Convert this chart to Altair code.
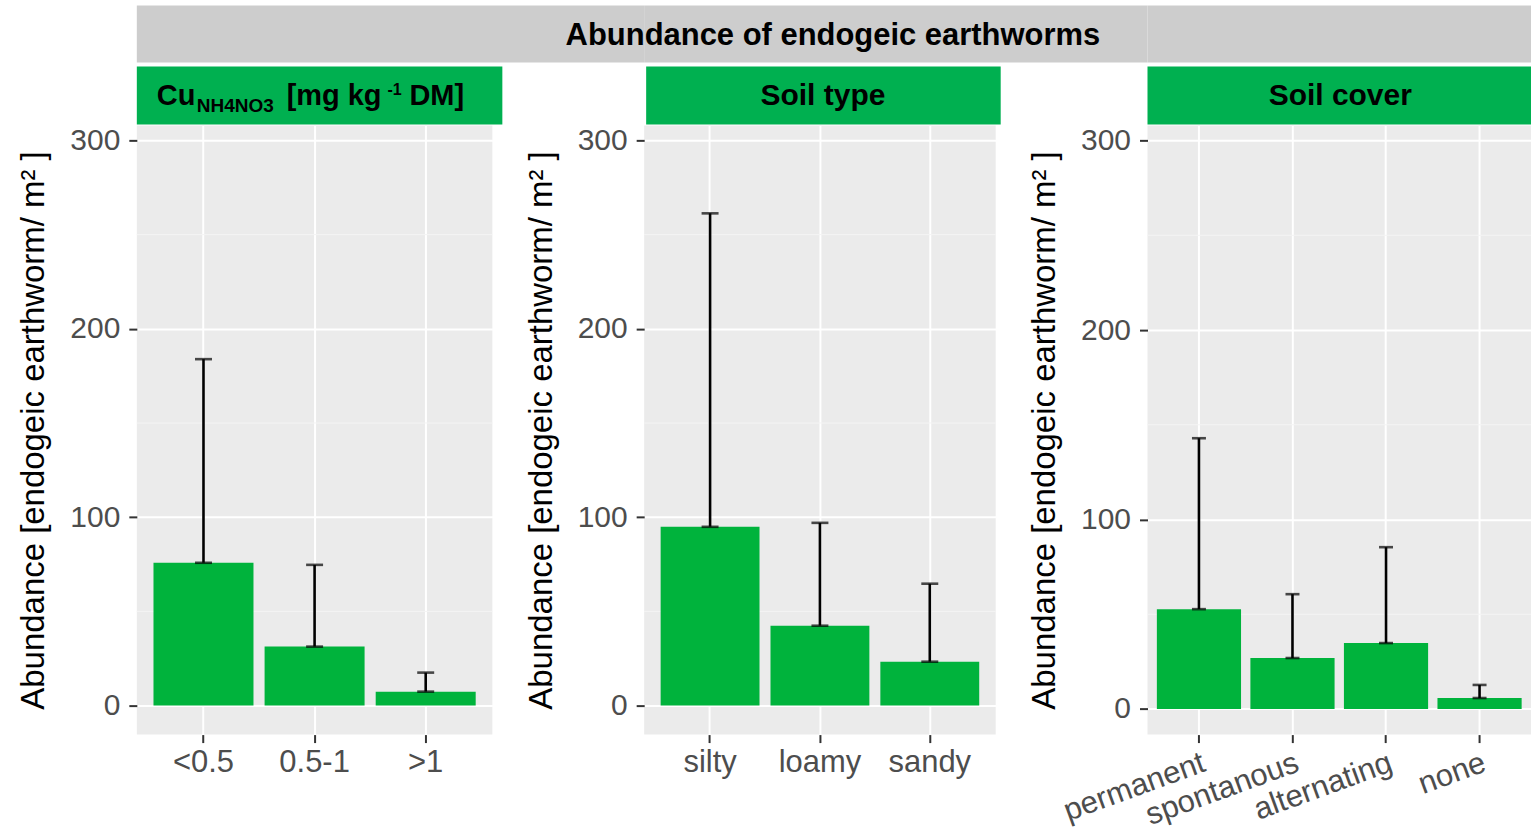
import altair as alt
import pandas as pd

# ---------------- data ----------------
cu_cats = ["<0.5", "0.5-1", ">1"]
cu_mean = [75.8, 31.3, 7.4]
cu_upper = [183.9, 74.7, 17.5]

soil_cats = ["silty", "loamy", "sandy"]
soil_mean = [94.9, 42.4, 23.3]
soil_upper = [261.3, 97.0, 64.7]

cover_cats = ["permanent", "spontanous", "alternating", "none"]
cover_mean = [52.7, 26.9, 34.8, 5.8]
cover_upper = [142.9, 60.6, 85.4, 12.7]

y_ticks = [0, 100, 200, 300]
minor_ticks = [50, 150, 250]

main_title = "Abundance of endogeic earthworms"
y_title = "Abundance [endogeic earthworm/ m² ]"
strip_soil = "Soil type"
strip_cover = "Soil cover"
cu_parts = ["Cu", "NH4NO3", "[mg kg", "-1", "DM]"]

# ---------------- style ----------------
FONT = "Liberation Sans"
BAR_GREEN = "#00B33C"
STRIP_GREEN = "#00B050"
BANNER_GREY = "#CDCDCD"
PANEL_H = 610


def yaxis():
    return alt.Axis(values=y_ticks, title=y_title, grid=True, gridColor="white",
                    gridWidth=2, domain=False, tickColor="#333333", tickSize=8,
                    tickWidth=2, labelFontSize=30, labelColor="#4D4D4D",
                    labelPadding=9, titleFontSize=33, titleFontWeight="normal",
                    titleColor="black", titlePadding=19, labelFont=FONT,
                    titleFont=FONT)


def xaxis(rotate):
    kw = dict(title=None, grid=True, gridColor="white", gridWidth=2, domain=False,
              tickColor="#333333", tickSize=8, tickWidth=2, labelFontSize=31,
              labelColor="#4D4D4D", labelPadding=5, labelFont=FONT)
    if rotate:
        kw.update(labelAngle=340, labelAlign="right", labelBaseline="top")
    else:
        kw.update(labelAngle=0, labelAlign="center", labelBaseline="top")
    return alt.Axis(**kw)


def const_rect(x0, x1, y0, y1, color):
    return alt.Chart(pd.DataFrame({"k": [0]})).mark_rect(color=color).encode(
        x=alt.value(x0), x2=alt.value(x1), y=alt.value(y0), y2=alt.value(y1))


def const_text(txt, x, y, size, align="center"):
    return alt.Chart(pd.DataFrame({"t": [txt]})).mark_text(
        font=FONT, fontSize=size, fontWeight="bold", color="black",
        align=align, baseline="alphabetic").encode(
        text="t:N", x=alt.value(x), y=alt.value(y))


def panel(cats, means, uppers, width, ydom, cap, rotate, pad_outer, deco):
    df = pd.DataFrame({"cat": cats, "mean": means, "upper": uppers})
    xs = alt.Scale(paddingInner=0.1, paddingOuter=pad_outer)
    ys = alt.Scale(domain=ydom, nice=False, zero=False)
    X = alt.X("cat:N", sort=cats, scale=xs, axis=xaxis(rotate))

    minor = alt.Chart(pd.DataFrame({"v": minor_ticks})).mark_rule(
        color="#F4F4F4", strokeWidth=1).encode(
        y=alt.Y("v:Q", scale=ys, axis=yaxis()),
        x=alt.value(0), x2=alt.value(width))
    base = alt.Chart(df)
    bars = base.mark_bar(color=BAR_GREEN).encode(
        x=X, y=alt.Y("mean:Q", scale=ys, axis=yaxis()), y2=alt.datum(0))
    err = base.mark_rule(color="black", strokeWidth=2.6).encode(
        x=X, y=alt.Y("mean:Q", scale=ys, axis=yaxis()), y2="upper:Q")
    cap_top = base.mark_tick(color="black", size=cap, thickness=2.6,
                             orient="horizontal").encode(
        x=X, y=alt.Y("upper:Q", scale=ys, axis=yaxis()))
    cap_bot = base.mark_tick(color="black", size=cap, thickness=2.6,
                             orient="horizontal").encode(
        x=X, y=alt.Y("mean:Q", scale=ys, axis=yaxis()))
    return alt.layer(minor, bars, err, cap_top, cap_bot, *deco).properties(
        width=width, height=PANEL_H)


W1, W2, W3 = 356, 352, 384
SP = 152

deco1 = [
    const_rect(0, W1 + SP, -120, -63, BANNER_GREY),
    const_rect(0, 366, -59, -1, STRIP_GREEN),
    const_text(cu_parts[0], 20, -20, 29, "left"),
    const_text(cu_parts[1], 60, -13, 19, "left"),
    const_text(cu_parts[2], 150, -20, 29, "left"),
    const_text(cu_parts[3], 251, -30, 16, "left"),
    const_text(cu_parts[4], 273, -20, 29, "left"),
]
deco2 = [
    const_rect(0, W2 + SP, -120, -63, BANNER_GREY),
    const_rect(2, 357, -59, -1, STRIP_GREEN),
    const_text(strip_soil, 179, -20, 30),
    const_text(main_title, 189, -80, 31),
]
deco3 = [
    const_rect(0, W3, -120, -63, BANNER_GREY),
    const_rect(0, W3, -59, -1, STRIP_GREEN),
    const_text(strip_cover, 193, -20, 30),
]

p1 = panel(cu_cats, cu_mean, cu_upper, W1, [-15.4, 308], 17, False, 0.15, deco1)
p2 = panel(soil_cats, soil_mean, soil_upper, W2, [-15.4, 308], 17, False, 0.15, deco2)
p3 = panel(cover_cats, cover_mean, cover_upper, W3, [-13.5, 308], 14, True, 0.1, deco3)

chart = alt.hconcat(p1, p2, p3, spacing=SP, bounds="flush").configure(
    padding={"left": 17, "top": 5, "right": 0, "bottom": 0},
    background="white", font=FONT
).configure_view(fill="#EBEBEB", stroke=None)

chart.save("out.html", embed_options={"renderer": "svg", "actions": False})
